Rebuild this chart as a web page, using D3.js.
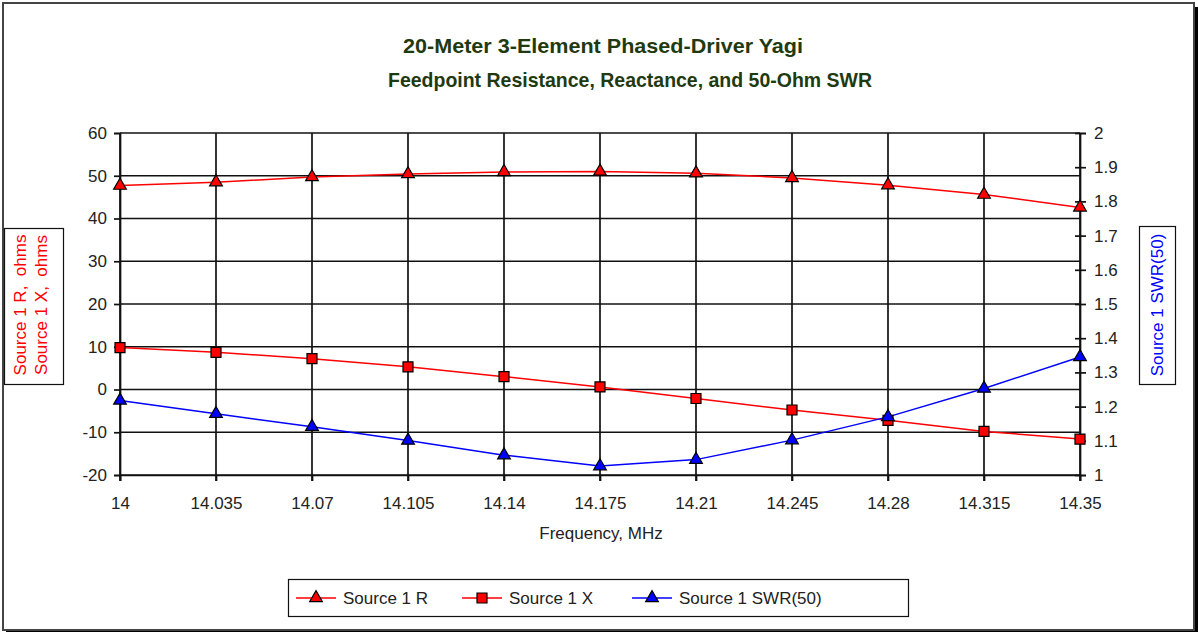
<!DOCTYPE html>
<html>
<head>
<meta charset="utf-8">
<script src="https://cdn.jsdelivr.net/npm/d3@7"></script>
<style>
html,body{margin:0;padding:0;background:#fff;}
svg{display:block;font-family:"Liberation Sans",Arial,sans-serif;}
</style>
</head>
<body>
<svg id="chart" width="1198" height="632"></svg>
<script>
const categories = ["14","14.035","14.07","14.105","14.14","14.175","14.21","14.245","14.28","14.315","14.35"];
const sourceR = [47.7, 48.5, 49.7, 50.4, 50.9, 51.0, 50.6, 49.5, 47.8, 45.6, 42.6];
const sourceX = [9.8, 8.7, 7.2, 5.3, 3.0, 0.6, -2.1, -4.8, -7.2, -9.8, -11.6];
const sourceSWR = [1.218, 1.179, 1.141, 1.101, 1.058, 1.026, 1.045, 1.102, 1.170, 1.253, 1.345];
const leftTicks = [-20,-10,0,10,20,30,40,50,60];
const rightTicks = [1,1.1,1.2,1.3,1.4,1.5,1.6,1.7,1.8,1.9,2];
const titleLines = ["20-Meter 3-Element Phased-Driver Yagi","Feedpoint Resistance, Reactance, and 50-Ohm SWR"];
const xTitle = "Frequency, MHz";
const leftTitleLines = ["Source 1 R,  ohms","Source 1 X,  ohms"];
const rightTitle = "Source 1 SWR(50)";
const seriesNames = ["Source 1 R","Source 1 X","Source 1 SWR(50)"];

const svg = d3.select("#chart");
const plot = {l:120, r:1080, t:133, b:475};
const FS = 17;

// frame with shadow
svg.append("rect").attr("x",6).attr("y",7).attr("width",1192).attr("height",625).attr("fill","#000");
svg.append("rect").attr("x",3).attr("y",3).attr("width",1191).attr("height",627)
  .attr("fill","#fff").attr("stroke","#444").attr("stroke-width",2);

const x = d3.scalePoint().domain(categories).range([plot.l, plot.r]);
const yL = d3.scaleLinear().domain([-20,60]).range([plot.b, plot.t]);
const yR = d3.scaleLinear().domain([1,2]).range([plot.b, plot.t]);

const gridColor = "#111";
svg.append("g").selectAll("line").data(leftTicks).join("line")
  .attr("x1",plot.l).attr("x2",plot.r).attr("y1",d=>yL(d)).attr("y2",d=>yL(d))
  .attr("stroke",gridColor).attr("stroke-width",1.7);
svg.append("g").selectAll("line").data(categories).join("line")
  .attr("x1",d=>x(d)).attr("x2",d=>x(d)).attr("y1",plot.t).attr("y2",plot.b+6)
  .attr("stroke",gridColor).attr("stroke-width",1.7);

const axL = svg.append("g").attr("transform",`translate(${plot.l},0)`)
  .call(d3.axisLeft(yL).tickValues(leftTicks).tickSize(6).tickPadding(7).tickFormat(d=>String(d)));
const axR = svg.append("g").attr("transform",`translate(${plot.r},0)`)
  .call(d3.axisRight(yR).tickValues(rightTicks).tickSize(6).tickPadding(8).tickFormat(d=>String(+d.toFixed(1))));
axR.selectAll(".tick line").attr("x1",-5);
const axB = svg.append("g").attr("transform",`translate(0,${plot.b})`)
  .call(d3.axisBottom(x).tickSize(6).tickPadding(16));
[axL,axR,axB].forEach(a=>{
  a.select(".domain").attr("stroke",gridColor).attr("stroke-width",1.7);
  a.selectAll(".tick line").attr("stroke",gridColor).attr("stroke-width",1.7);
  a.selectAll("text").attr("font-size",FS).attr("fill","#222").attr("font-family","Liberation Sans, Arial, sans-serif");
});

const lineL = d3.line().x((d,i)=>x(categories[i])).y(d=>yL(d));
const lineR = d3.line().x((d,i)=>x(categories[i])).y(d=>yR(d));
svg.append("path").attr("d",lineL(sourceR)).attr("fill","none").attr("stroke","#ff0000").attr("stroke-width",1.5);
svg.append("path").attr("d",lineL(sourceX)).attr("fill","none").attr("stroke","#ff0000").attr("stroke-width",1.5);
svg.append("path").attr("d",lineR(sourceSWR)).attr("fill","none").attr("stroke","#0000ff").attr("stroke-width",1.5);

const tri = d3.symbol().type(d3.symbolTriangle).size(70);
const sq = d3.symbol().type(d3.symbolSquare).size(100);
svg.append("g").selectAll("path").data(sourceR).join("path")
  .attr("d",tri).attr("transform",(d,i)=>`translate(${x(categories[i])},${yL(d)})`)
  .attr("fill","#ff0000").attr("stroke","#000").attr("stroke-width",1.2);
svg.append("g").selectAll("path").data(sourceX).join("path")
  .attr("d",sq).attr("transform",(d,i)=>`translate(${x(categories[i])},${yL(d)})`)
  .attr("fill","#ff0000").attr("stroke","#000").attr("stroke-width",1.2);
svg.append("g").selectAll("path").data(sourceSWR).join("path")
  .attr("d",tri).attr("transform",(d,i)=>`translate(${x(categories[i])},${yR(d)})`)
  .attr("fill","#0000ff").attr("stroke","#000").attr("stroke-width",1.2);

// titles (widths matched to the reference's wider/narrower type)
const titleStart = [403, 388];
const titleLen = [400, 484];
svg.append("g").selectAll("text").data(titleLines).join("text")
  .attr("x",(d,i)=>titleStart[i]).attr("y",(d,i)=>53+i*34)
  .attr("textLength",(d,i)=>titleLen[i]).attr("lengthAdjust","spacingAndGlyphs")
  .attr("font-size",20.5).attr("font-weight","bold").attr("fill","#1f3a10").text(d=>d);

svg.append("text").attr("x",601).attr("y",539).attr("text-anchor","middle")
  .attr("font-size",FS).attr("fill","#222").text(xTitle);

svg.append("rect").attr("x",4.5).attr("y",228.5).attr("width",59).attr("height",156)
  .attr("fill","#fff").attr("stroke","#111").attr("stroke-width",1.2);
svg.append("g").selectAll("text").data(leftTitleLines).join("text")
  .attr("transform",(d,i)=>`translate(${26+i*21},305) rotate(-90)`)
  .attr("text-anchor","middle").attr("font-size",FS).attr("fill","#ff0000")
  .style("white-space","pre").text(d=>d);

svg.append("rect").attr("x",1139.5).attr("y",226.5).attr("width",36).attr("height",158)
  .attr("fill","#fff").attr("stroke","#111").attr("stroke-width",1.2);
svg.append("text").attr("transform","translate(1163,305) rotate(-90)")
  .attr("text-anchor","middle").attr("font-size",FS).attr("fill","#0000ff").text(rightTitle);

svg.append("rect").attr("x",288.5).attr("y",579.5).attr("width",620).attr("height",37)
  .attr("fill","#fff").attr("stroke","#111").attr("stroke-width",1.2);
const legendX = [296, 462, 632];
const legendColors = ["#ff0000","#ff0000","#0000ff"];
const legendSym = [tri, sq, tri];
const lg = svg.append("g").selectAll("g").data(seriesNames).join("g")
  .attr("transform",(d,i)=>`translate(${legendX[i]},598)`);
lg.append("line").attr("x1",0).attr("x2",40).attr("stroke",(d,i)=>legendColors[i]).attr("stroke-width",1.5);
lg.append("path").attr("d",(d,i)=>legendSym[i]()).attr("transform","translate(20,0)")
  .attr("fill",(d,i)=>legendColors[i]).attr("stroke","#000").attr("stroke-width",1.2);
lg.append("text").attr("x",47).attr("y",6).attr("font-size",FS).attr("fill","#222").text(d=>d);
</script>
</body>
</html>
